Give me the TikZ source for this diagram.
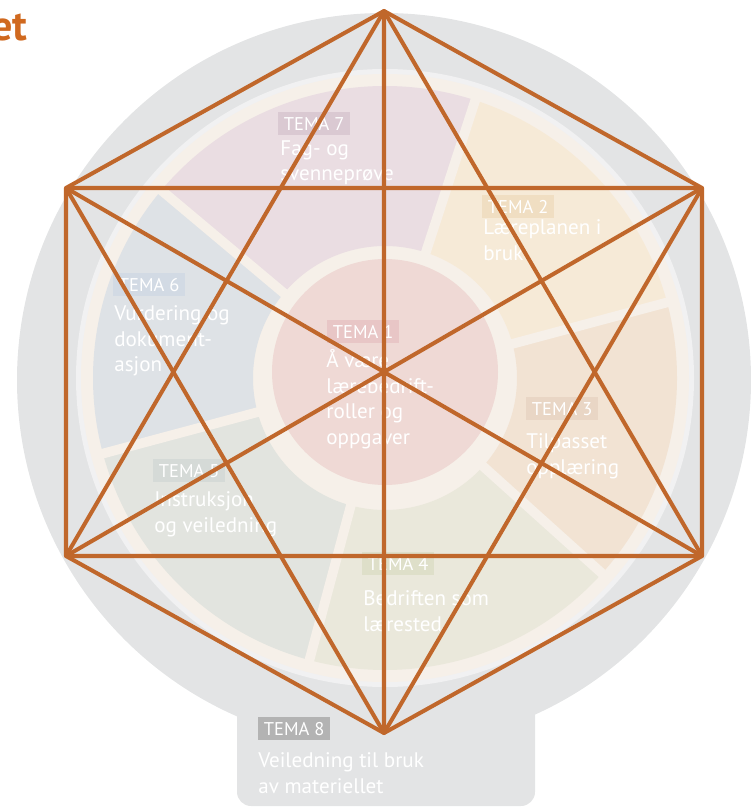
\documentclass[tikz,border=0pt]{standalone}
\usepackage{fontspec}
\setmainfont{PT Sans}
\definecolor{hexbrown}{HTML}{C0672B}
\definecolor{titleorange}{HTML}{D0691F}
\definecolor{graybg}{HTML}{E3E4E5}
\definecolor{creamring}{HTML}{F6F0E9}
\definecolor{tema1}{HTML}{EFD9D5}
\definecolor{tema2}{HTML}{F6EAD7}
\definecolor{tema3}{HTML}{F2E3D3}
\definecolor{tema4}{HTML}{EAE8DB}
\definecolor{tema5}{HTML}{E2E4DF}
\definecolor{tema6}{HTML}{DEE2E6}
\definecolor{tema7}{HTML}{EADDE2}
\definecolor{box1}{HTML}{E8C6C6}
\definecolor{box2}{HTML}{F0DEC2}
\definecolor{box3}{HTML}{E9D6C5}
\definecolor{box4}{HTML}{DEDFC9}
\definecolor{box5}{HTML}{D5DAD7}
\definecolor{box6}{HTML}{D2DAE4}
\definecolor{box7}{HTML}{DAC9D2}
\definecolor{box8}{HTML}{B3B3B3}
\tikzset{
  hexline/.style={draw=hexbrown,line width=2.3pt,line join=round},
  temabox/.style={anchor=north west,text=white,font=\fontsize{10.5}{12}\selectfont,
    minimum width=40.8pt,minimum height=13pt,inner sep=1pt},
  tematext/.style={anchor=north west,align=left,text=white,inner sep=0pt,
    font=\fontsize{12}{14.7}\selectfont}
}
\begin{document}
\begin{tikzpicture}[x=0.02cm,y=-0.02cm]
\useasboundingbox (0,0) rectangle (750,810);
\coordinate (c) at (385,378);
% grey backdrop with tab
\fill[graybg] (384,380) circle (367);
\fill[graybg,rounded corners=8pt] (237,690) rectangle (535,806);
% wheel
\fill[white,opacity=0.5] (c) circle (309);
\fill[creamring] (c) circle (304);
\foreach \a/\b/\col in {220/288/tema7,-72/-15/tema2,-15/42/tema3,42/105/tema4,105/165/tema5,165/220/tema6}
  \fill[\col] (c) ++(\a:292) arc[start angle=\a,end angle=\b,radius=292]
    -- ([shift={(\b:132)}]c) arc[start angle=\b,end angle=\a,radius=132] -- cycle;
\foreach \a in {220,288,-15,42,105,165}
  \draw[creamring,line width=5.5pt] (c) ++(\a:125) -- ++(\a:175);
\fill[tema1] (385,372) circle (113);
% labels
\node[temabox,fill=box7] (t7) at (278,112) {TEMA 7};
\node[tematext] (t7txt) at (280,140) {Fag- og\\svenneprøve};
\node[temabox,fill=box2] (t2) at (482,195) {TEMA 2};
\node[tematext] (t2txt) at (483,219) {Læreplanen i\\bruk};
\node[temabox,fill=box6] (t6) at (113,273) {TEMA 6};
\node[tematext] (t6txt) at (114,305) {Vurdering og\\dokument-\\asjon};
\node[temabox,fill=box1] (t1) at (327,320) {TEMA 1};
\node[tematext] (t1txt) at (326,349) {Å være\\lærebedrift-\\roller og\\oppgaver};
\node[temabox,fill=box3] (t3) at (526,397) {TEMA 3};
\node[tematext] (t3txt) at (526,433) {Tilpasset\\opplæring};
\node[temabox,fill=box5] (t5) at (153,459) {TEMA 5};
\node[tematext] (t5txt) at (154,491) {Instruksjon\\og veiledning};
\node[temabox,fill=box4] (t4) at (362,552) {TEMA 4};
\node[tematext] (t4txt) at (363,590) {Bedriften som\\lærested};
\node[temabox,fill=box8] (t8) at (258,717) {TEMA 8};
\node[tematext] (t8txt) at (258,752) {Veiledning til bruk\\av materiellet};
% title remnant
\node[anchor=base east,text=titleorange,inner sep=0pt,font=\bfseries\fontsize{24}{28}\selectfont] (title) at (28,41) {et};
% hexagon figure
\coordinate (T) at (384,11);
\coordinate (UL) at (66,188);
\coordinate (UR) at (702,188);
\coordinate (LL) at (66,556);
\coordinate (LR) at (702,556);
\coordinate (B) at (384,733);
\draw[hexline] (T) -- (UR) -- (LR) -- (B) -- (LL) -- (UL) -- cycle;
\draw[hexline] (T) -- (LL) -- (LR) -- cycle;
\draw[hexline] (B) -- (UL) -- (UR) -- cycle;
\draw[hexline] (T) -- (B) (UL) -- (LR) (UR) -- (LL);
\end{tikzpicture}
\end{document}
